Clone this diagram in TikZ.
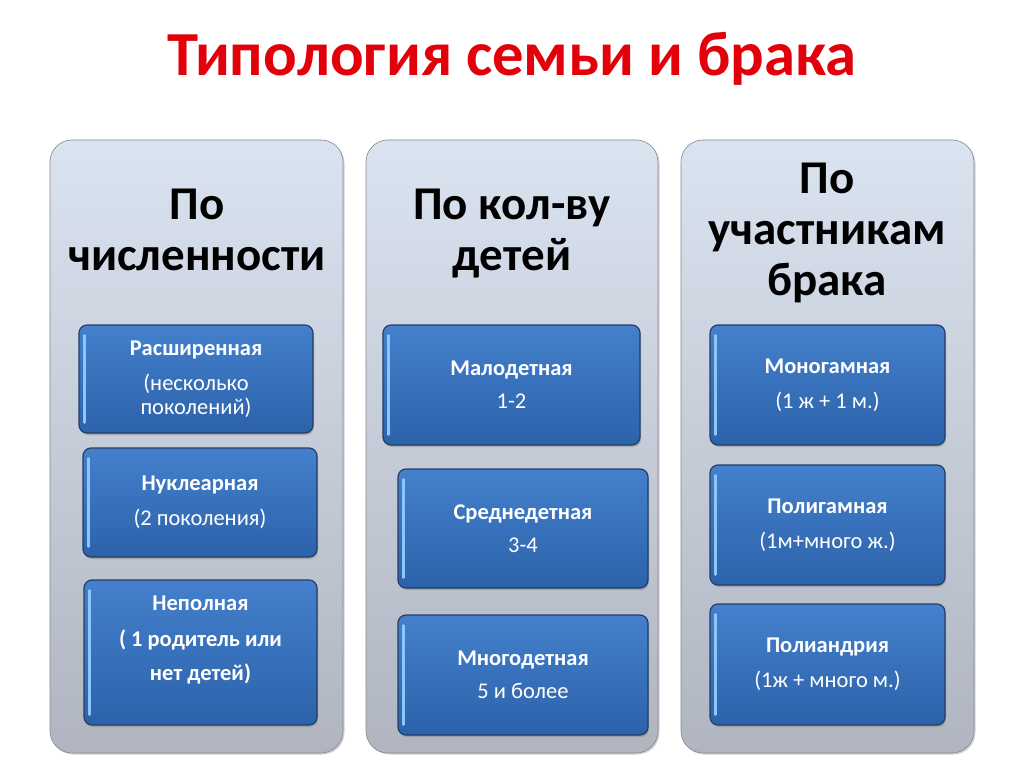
\documentclass[tikz,border=0pt]{standalone}
\usepackage{fontspec}
\setmainfont{Carlito}
\usetikzlibrary{shadows}

\definecolor{ttl}{RGB}{226,0,10}
\definecolor{pnltop}{RGB}{218,227,240}
\definecolor{pnlbot}{RGB}{176,181,192}
\definecolor{cardtop}{RGB}{68,128,204}
\definecolor{cardbot}{RGB}{44,98,170}
\definecolor{cardedge}{RGB}{34,62,104}
\definecolor{cardhi}{RGB}{140,198,250}

\tikzset{
  panel/.style={rounded corners=22pt, top color=pnltop, bottom color=pnlbot,
    draw=pnlbot!75!black, line width=0.6pt,
    drop shadow={shadow xshift=1.5pt, shadow yshift=-1.5pt, opacity=0.35}},
  card/.style={rounded corners=8pt, top color=cardtop, bottom color=cardbot,
    draw=cardedge, line width=1.2pt, text=white, align=center, inner sep=0pt,
    font=\fontsize{22.5}{24}\selectfont,
    drop shadow={shadow xshift=1pt, shadow yshift=-2pt, opacity=0.45}},
  hilite/.style={draw=cardhi, line width=2.6pt, line cap=round},
  head/.style={align=center, font=\fontsize{47}{51}\selectfont\bfseries, anchor=base},
}

\begin{document}
\begin{tikzpicture}[x=1pt,y=-1pt]
    % page and title %
    \useasboundingbox (0,0) rectangle (1024,767);
    \fill[white] (0,0) rectangle (1024,767);
    \node[anchor=base, text=ttl, font=\fontsize{62.7}{62.7}\selectfont\bfseries] (title) at (512,76) {Типология семьи и брака};

    % three panels %
    \draw[panel] (50,140) rectangle (343,753);
    \draw[panel] (366,140) rectangle (658,753);
    \draw[panel] (681,140) rectangle (974,753);

    % headings (base = last line) %
    \node[head] (h1) at (197,270) {По\\численности};
    \node[head] (h2) at (512,270) {По кол-ву\\детей};
    \node[head] (h3) at (827,295) {По\\участникам\\брака};

    % by size %
    \node[card, minimum width=234pt, minimum height=108pt] (rasshir) at (196,379)
        {\textbf{Расширенная}\\[11pt](несколько\\поколений)};
    \node[card, minimum width=234pt, minimum height=109pt] (nukl) at (200,502.5)
        {\textbf{Нуклеарная}\\[11pt](2 поколения)};
    \node[card, minimum width=233pt, minimum height=145pt] (nepoln) at (200.5,652.5)
        {\textbf{Неполная}\\[12pt]\textbf{( 1 родитель или}\\[10pt]\textbf{нет детей)}\\[4pt]\mbox{}};

    % by number of children %
    \node[card, minimum width=257pt, minimum height=120pt] (malo) at (511.5,385)
        {\textbf{Малодетная}\\[9pt]1-2};
    \node[card, minimum width=250pt, minimum height=119pt] (sredne) at (523,528.5)
        {\textbf{Среднедетная}\\[9pt]3-4};
    \node[card, minimum width=250pt, minimum height=120pt] (mnogo) at (523,675)
        {\textbf{Многодетная}\\[9pt]5 и более};

    % by spouses %
    \node[card, minimum width=235pt, minimum height=120pt] (monog) at (827.5,385)
        {\textbf{Моногамная}\\[11pt](1 ж + 1 м.)};
    \node[card, minimum width=235pt, minimum height=120pt] (polig) at (827.5,525)
        {\textbf{Полигамная}\\[11pt](1м+много ж.)};
    \node[card, minimum width=235pt, minimum height=121pt] (polian) at (827.5,664.5)
        {\textbf{Полиандрия}\\[11pt](1ж + много м.)};

    % light edge on the left of each card %
    \foreach \c in {rasshir,nukl,nepoln,malo,sredne,mnogo,monog,polig,polian}
        \draw[hilite] ([xshift=6pt,yshift=-11pt]\c.north west) -- ([xshift=6pt,yshift=11pt]\c.south west);
\end{tikzpicture}
\end{document}
